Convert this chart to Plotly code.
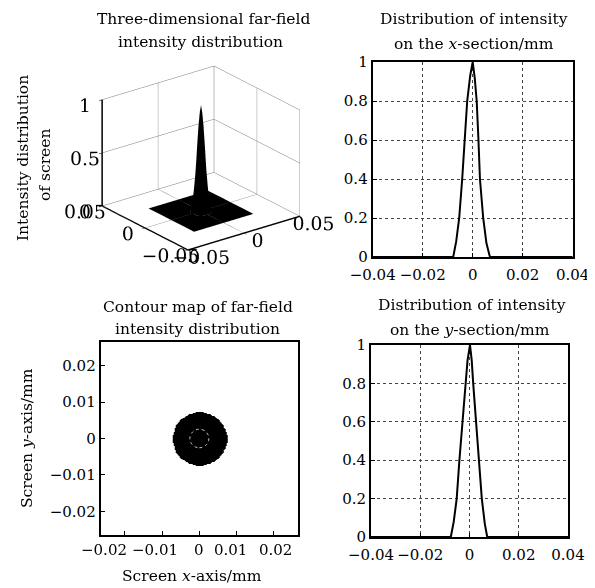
import numpy as np
import plotly.graph_objects as go

# ---------------- data ----------------
# x-section profile (top right)
xsec_x = [-0.04, -0.0078, -0.0066, -0.0054, -0.0042, -0.0032, -0.0022, -0.0010, 0.0,
          0.0008, 0.0016, 0.0023, 0.0029, 0.0042, 0.0055, 0.0069, 0.04]
xsec_I = [0, 0, 0.08, 0.2, 0.4, 0.6, 0.8, 0.93, 1.0,
          0.92, 0.8, 0.6, 0.4, 0.2, 0.07, 0, 0]
# y-section profile (bottom right)
ysec_y = [-0.04, -0.0076, -0.0064, -0.0052, -0.0041, -0.0029, -0.0017, -0.0008, 0.0002,
          0.0009, 0.0015, 0.0026, 0.0036, 0.0050, 0.0062, 0.0072, 0.04]
ysec_I = [0, 0, 0.08, 0.2, 0.4, 0.6, 0.8, 0.92, 1.0,
          0.92, 0.8, 0.6, 0.4, 0.2, 0.07, 0, 0]
# radial profile (average of the sections) used for the 3D surface / contour map
r_prof = [0, 0.0009, 0.0018, 0.0028, 0.0037, 0.0050, 0.0064, 0.0074, 0.05]
I_prof = [1, 0.93, 0.8, 0.6, 0.4, 0.2, 0.07, 0, 0]
screen_half = 0.0265
screen_step = 0.0005

tick_3d = [-0.05, 0, 0.05]
tick_z = [0, 0.5, 1]
tick_sec = [-0.04, -0.02, 0, 0.02, 0.04]
tick_cont = [-0.02, -0.01, 0, 0.01, 0.02]
tick_cont_text = ["\u22120.02", "\u22120.01", "0", "0.01", "0.02"]

# ---------------- field ----------------
n = int(round(2 * screen_half / screen_step)) + 1
g = np.linspace(-screen_half, screen_half, n)
GX, GY = np.meshgrid(g, g)
R = np.sqrt(GX ** 2 + GY ** 2)
Z = np.interp(R, r_prof, I_prof)

FONT = "DejaVu Serif"
OFF = 8                      # page body margin
W, H = 595 - OFF, 588 - OFF

fig = go.Figure()

# 3D surface
fig.add_trace(go.Surface(x=g, y=g, z=Z, colorscale=[[0, "black"], [1, "black"]],
                         showscale=False, scene="scene",
                         lighting=dict(ambient=1, diffuse=0, specular=0)))

# x-section
fig.add_trace(go.Scatter(x=xsec_x, y=xsec_I, mode="lines",
                         line=dict(color="black", width=2), xaxis="x", yaxis="y"))
# contour map
fig.add_trace(go.Heatmap(x=g, y=g, z=Z, zmin=0, zmax=1, zsmooth="best",
                         colorscale=[[0, "white"], [0.01, "white"], [0.011, "black"], [1, "black"]],
                         showscale=False, xaxis="x2", yaxis="y2"))
fig.add_trace(go.Contour(x=g, y=g, z=Z, showscale=False,
                         contours=dict(start=0.65, end=0.65, size=1, coloring="lines"),
                         line=dict(color="#c8c8c8", width=1, dash="dot"),
                         colorscale=[[0, "#c8c8c8"], [1, "#c8c8c8"]],
                         xaxis="x2", yaxis="y2"))
# y-section
fig.add_trace(go.Scatter(x=ysec_y, y=ysec_I, mode="lines",
                         line=dict(color="black", width=2), xaxis="x3", yaxis="y3"))

def px(xp):
    return (xp - OFF) / W

def py(yp):
    return 1 - (yp - OFF) / H

axis_common = dict(showline=True, linecolor="black", linewidth=2, mirror=True,
                   showgrid=True, gridcolor="#444444", griddash="dot", gridwidth=1,
                   ticks="inside", ticklen=4, tickcolor="black", zeroline=False,
                   automargin=False, tickangle=0,
                   tickfont=dict(family=FONT, size=15, color="black"))
xstand = dict(ticklabelstandoff=3)

fig.update_layout(
    width=W, height=H, margin=dict(l=0, r=0, t=0, b=0, autoexpand=False),
    paper_bgcolor="white", plot_bgcolor="white", showlegend=False,
    font=dict(family=FONT, color="black"),
    xaxis=dict(domain=[px(372.7), px(572.7)], range=[-0.04, 0.04], tickvals=tick_sec,
               anchor="y", **axis_common, **xstand),
    yaxis=dict(domain=[py(257), py(62)], range=[0, 1], dtick=0.2, anchor="x", **axis_common),
    xaxis2=dict(domain=[px(100.7), px(298)], range=[-screen_half, screen_half], tickvals=tick_cont,
                ticktext=[""] * len(tick_cont), anchor="y2", **axis_common),
    yaxis2=dict(domain=[py(535), py(342)], range=[-screen_half, screen_half], tickvals=tick_cont,
                anchor="x2", **axis_common),
    xaxis3=dict(domain=[px(371), px(568)], range=[-0.04, 0.04], tickvals=tick_sec,
                anchor="y3", **axis_common, **xstand),
    yaxis3=dict(domain=[py(537), py(345)], range=[0, 1], dtick=0.2, anchor="x3", **axis_common),
)

ax3d = dict(showbackground=False, showgrid=True, gridcolor="#777777", gridwidth=1,
            showline=True, linecolor="black", linewidth=3, zeroline=False,
            ticks="outside", tickcolor="black", ticklen=4, title=dict(text=""),
            showspikes=False, tickangle=0, tickfont=dict(family=FONT, size=15, color="black"))
zasp = 0.82
az, el = np.radians(37.5), np.arctan(zasp * np.tan(np.radians(27.5)))
d = np.array([-np.sin(az) * np.cos(el), -np.cos(az) * np.cos(el), np.sin(el)])
eye = d * 1.19
cx, cy = 201.4, 157.5
hw, hh = 151, 141
fig.update_layout(scene=dict(
    domain=dict(x=[px(cx - hw), px(cx + hw)], y=[py(cy + hh), py(cy - hh)]),
    xaxis=dict(range=[-0.05, 0.05], tickvals=tick_3d, **ax3d),
    yaxis=dict(range=[-0.05, 0.05], tickvals=tick_3d, **ax3d),
    zaxis=dict(range=[0, 1], tickvals=tick_z, **ax3d),
    aspectmode="manual", aspectratio=dict(x=1, y=1, z=zasp),
    camera=dict(eye=dict(x=eye[0], y=eye[1], z=eye[2]), center=dict(x=0, y=0, z=0),
                projection=dict(type="orthographic")),
))

ann = []
def text(x, y, s, size=15.5, angle=0):
    ann.append(dict(x=px(x), y=py(y), xref="paper", yref="paper", text=s, showarrow=False,
                    xanchor="center", yanchor="middle", textangle=angle,
                    font=dict(family=FONT, size=size, color="black")))

text(203, 19, "Three-dimensional far-field")
text(200, 42, "intensity distribution")
text(474, 19, "Distribution of intensity")
text(474, 44, "on the <i>x</i>-section/mm")
text(198, 307, "Contour map of far-field")
text(198, 329, "intensity distribution")
text(472, 305, "Distribution of intensity")
text(470, 330, "on the <i>y</i>-section/mm")
text(192, 576, "Screen <i>x</i>-axis/mm")
text(27, 438, "Screen <i>y</i>-axis/mm", angle=-90)
text(23, 158, "Intensity distribution", angle=-90)
text(45, 165, "of screen", angle=-90)

# contour-map x tick labels (spread as in the reference)
shifts = [-21, -7, 0, -6, 2]
for v, t, s in zip(tick_cont, tick_cont_text, shifts):
    ann.append(dict(x=v, y=py(550), xref="x2", yref="paper", text=t, showarrow=False,
                    xanchor="center", yanchor="middle", xshift=s,
                    font=dict(family=FONT, size=15, color="black")))
fig.update_layout(annotations=ann)

fig.write_html("out.html")
